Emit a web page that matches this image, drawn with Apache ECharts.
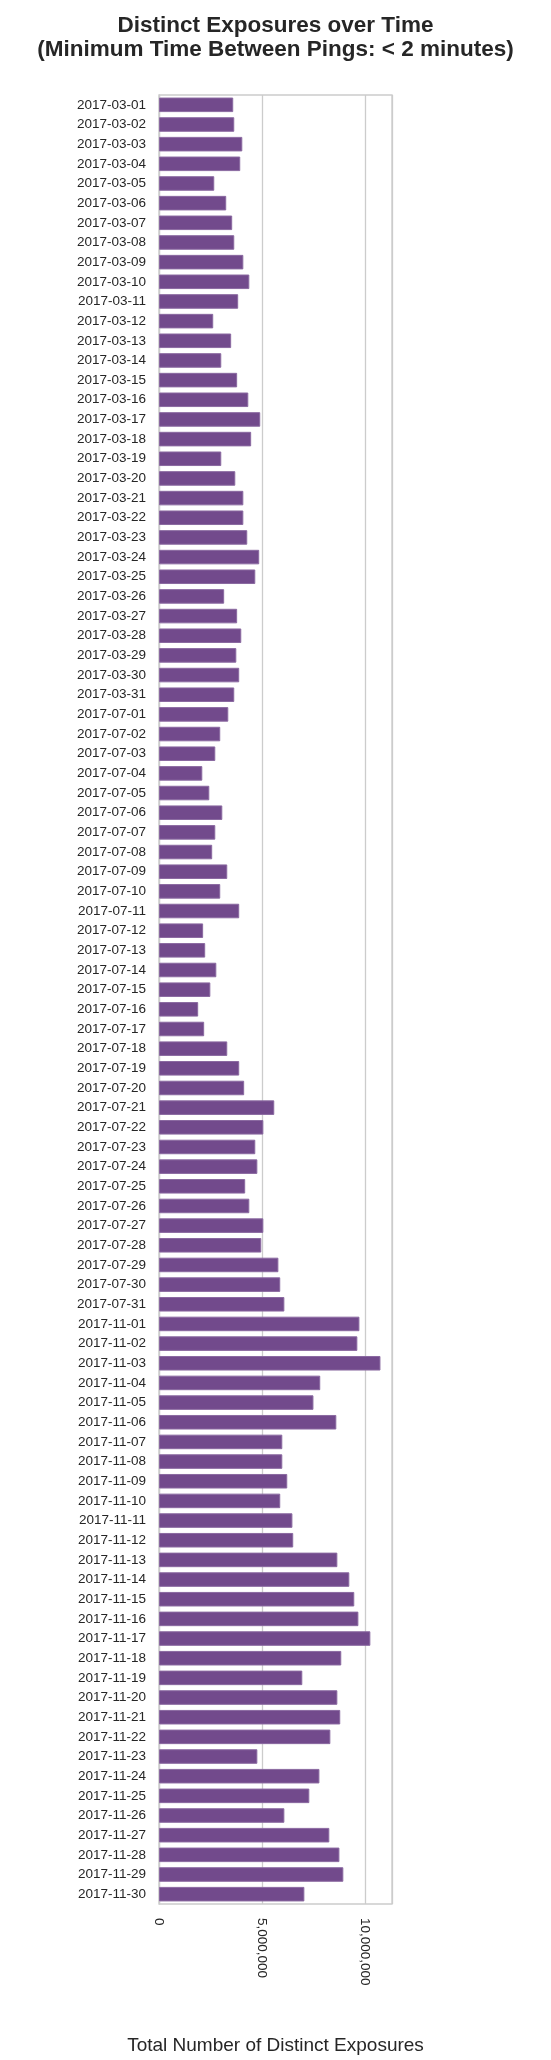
<!DOCTYPE html>
<html>
<head>
<meta charset="utf-8">
<script src="https://cdn.jsdelivr.net/npm/echarts@6/dist/echarts.min.js"></script>
<style>
html,body{margin:0;padding:0;background:#fff;}
#chart{width:551px;height:2060px;}
</style>
</head>
<body>
<div id="chart"></div>
<script>
const marchDates = ['2017-03-01','2017-03-02','2017-03-03','2017-03-04','2017-03-05','2017-03-06','2017-03-07','2017-03-08','2017-03-09','2017-03-10','2017-03-11','2017-03-12','2017-03-13','2017-03-14','2017-03-15','2017-03-16','2017-03-17','2017-03-18','2017-03-19','2017-03-20','2017-03-21','2017-03-22','2017-03-23','2017-03-24','2017-03-25','2017-03-26','2017-03-27','2017-03-28','2017-03-29','2017-03-30','2017-03-31'];
const julyDates = ['2017-07-01','2017-07-02','2017-07-03','2017-07-04','2017-07-05','2017-07-06','2017-07-07','2017-07-08','2017-07-09','2017-07-10','2017-07-11','2017-07-12','2017-07-13','2017-07-14','2017-07-15','2017-07-16','2017-07-17','2017-07-18','2017-07-19','2017-07-20','2017-07-21','2017-07-22','2017-07-23','2017-07-24','2017-07-25','2017-07-26','2017-07-27','2017-07-28','2017-07-29','2017-07-30','2017-07-31'];
const novDates = ['2017-11-01','2017-11-02','2017-11-03','2017-11-04','2017-11-05','2017-11-06','2017-11-07','2017-11-08','2017-11-09','2017-11-10','2017-11-11','2017-11-12','2017-11-13','2017-11-14','2017-11-15','2017-11-16','2017-11-17','2017-11-18','2017-11-19','2017-11-20','2017-11-21','2017-11-22','2017-11-23','2017-11-24','2017-11-25','2017-11-26','2017-11-27','2017-11-28','2017-11-29','2017-11-30'];

const marchValues = [3600000,3650000,4040000,3940000,2680000,3260000,3550000,3650000,4090000,4380000,3840000,2630000,3500000,3020000,3790000,4330000,4910000,4470000,3020000,3700000,4090000,4090000,4280000,4860000,4670000,3160000,3790000,3990000,3750000,3890000,3650000];
const julyValues = [3360000,2970000,2730000,2100000,2440000,3070000,2730000,2580000,3310000,2970000,3890000,2140000,2240000,2780000,2490000,1900000,2190000,3310000,3890000,4130000,5590000,5060000,4670000,4770000,4180000,4380000,5060000,4960000,5790000,5880000,6080000];
const novValues = [9720000,9620000,10740000,7820000,7490000,8600000,5980000,5980000,6220000,5880000,6470000,6510000,8650000,9230000,9470000,9670000,10250000,8840000,6950000,8650000,8790000,8310000,4770000,7780000,7290000,6080000,8260000,8750000,8940000,7050000];

const xTickValues = [0, 5000000, 10000000];

const categories = marchDates.concat(julyDates, novDates);
const values = marchValues.concat(julyValues, novValues);

const FONT = '"Liberation Sans", Arial, Helvetica, sans-serif';
const chart = echarts.init(document.getElementById('chart'), null, {renderer: 'canvas'});
chart.setOption({
  animation: false,
  backgroundColor: '#ffffff',
  title: {
    text: 'Distinct Exposures over Time\n(Minimum Time Between Pings: < 2 minutes)',
    left: 'center',
    top: 9,
    textStyle: {
      fontFamily: FONT,
      fontWeight: 'bold',
      fontSize: 22.5,
      lineHeight: 24,
      color: '#262626'
    }
  },
  grid: {
    left: 159,
    right: 159,
    top: 95,
    bottom: 152,
    show: true,
    borderColor: '#cccccc',
    borderWidth: 1.3,
    containLabel: false
  },
  xAxis: {
    type: 'value',
    min: 0,
    max: 11300000,
    interval: 5000000,
    name: 'Total Number of Distinct Exposures',
    nameLocation: 'middle',
    nameGap: 132,
    nameTextStyle: {fontFamily: FONT, fontSize: 19, color: '#262626'},
    axisLine: {show: false},
    axisTick: {show: false},
    axisLabel: {
      rotate: -90,
      margin: 14,
      showMaxLabel: false,
      fontFamily: FONT,
      fontSize: 13.5,
      color: '#262626',
      formatter: function (v) { return xTickValues.indexOf(v) >= 0 ? v.toLocaleString('en-US') : ''; }
    },
    splitLine: {show: true, lineStyle: {color: '#cccccc', width: 1.3}}
  },
  yAxis: {
    type: 'category',
    data: categories,
    inverse: true,
    axisLine: {show: true, lineStyle: {color: '#cccccc', width: 1.3}},
    axisTick: {show: false},
    axisLabel: {
      margin: 13,
      fontFamily: FONT,
      fontSize: 13.5,
      color: '#262626',
      interval: 0
    },
    splitLine: {show: false}
  },
  series: [{
    type: 'bar',
    data: values,
    barCategoryGap: '26%',
    itemStyle: {
      color: '#724a8c',
      borderColor: '#8a69a0',
      borderWidth: 1
    }
  }]
});
</script>
</body>
</html>
